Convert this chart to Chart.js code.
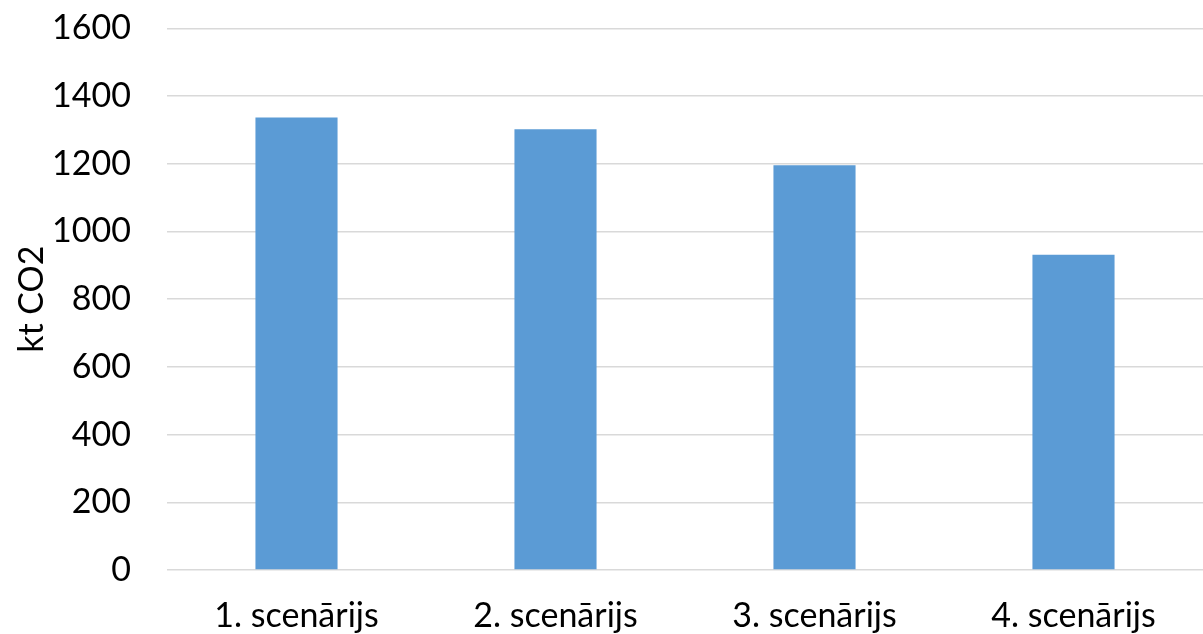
<!DOCTYPE html>
<html>
<head>
<meta charset="utf-8">
<script src="https://cdn.jsdelivr.net/npm/chart.js@4"></script>
<style>
  html, body { margin: 0; padding: 0; background: #ffffff; overflow: hidden; }
  #wrap { width: 1203px; height: 634px; position: relative; overflow: hidden; }
  #c { position: absolute; left: 0; top: -28px; }
</style>
</head>
<body>
<div id="wrap"><canvas id="c" width="1203" height="662"></canvas></div>
<script>
const categories = ['1. scenārijs', '2. scenārijs', '3. scenārijs', '4. scenārijs'];
const emissions = [1337, 1302, 1196, 931];
const axisTitle = 'kt CO2';

const fontFamily = 'Lato, "Open Sans", "Liberation Sans", sans-serif';

new Chart(document.getElementById('c'), {
  type: 'bar',
  data: {
    labels: categories,
    datasets: [{
      data: emissions,
      backgroundColor: '#5b9bd5',
      borderWidth: 0,
      categoryPercentage: 1,
      barPercentage: 0.317
    }]
  },
  options: {
    responsive: false,
    animation: false,
    layout: { padding: { top: 8, right: 0, bottom: 0, left: 0 } },
    plugins: { legend: { display: false }, tooltip: { enabled: false } },
    scales: {
      x: {
        grid: { display: false },
        border: { display: false },
        ticks: { color: '#000000', font: { family: fontFamily, size: 34 }, padding: 18, maxRotation: 0 },
        afterFit: s => { s.height = 64; }
      },
      y: {
        min: 0,
        max: 1600,
        ticks: {
          stepSize: 200, color: '#000000', font: { family: fontFamily, size: 34 }, padding: 36,
          callback: v => String(v)
        },
        grid: { color: '#d9d9d9', lineWidth: 1.5, drawTicks: false },
        border: { display: false },
        title: { display: true, text: axisTitle, color: '#000000', font: { family: fontFamily, size: 34 }, padding: { top: 12, bottom: 0 } },
        afterFit: s => { s.width = 167; }
      }
    }
  }
});
</script>
</body>
</html>
